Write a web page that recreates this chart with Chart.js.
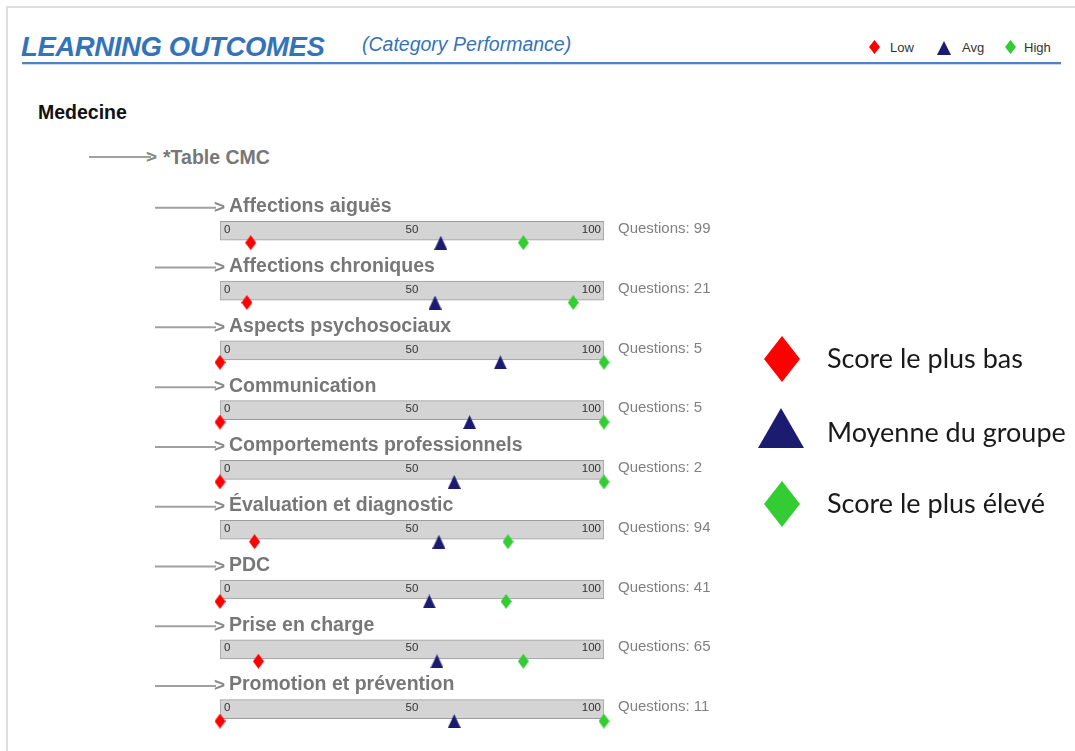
<!DOCTYPE html>
<html>
<head>
<meta charset="utf-8">
<script src="https://cdn.jsdelivr.net/npm/chart.js@4.4.1/dist/chart.umd.min.js"></script>
<style>
  body { margin: 0; background: #fff; font-family: "Liberation Sans", Arial, sans-serif; }
  #page { position: relative; width: 1075px; height: 751px; overflow: hidden; }
  #frame { position: absolute; left: 6px; top: 6px; width: 1080px; height: 800px;
           border-left: 2px solid #dedede; border-top: 2px solid #dedede; }
  #chart-wrap { position: absolute; left: 0; top: 0; width: 1075px; height: 751px; }
  .abs { position: absolute; white-space: nowrap; }
  .title { left: 21px; top: 31px; font-size: 27.5px; font-weight: bold; font-style: italic; color: #3373ba; letter-spacing: -0.4px; }
  .subtitle { left: 362px; top: 33px; font-size: 19.5px; font-style: italic; color: #3373ba; }
  .rule { left: 22px; top: 62px; width: 1039px; height: 2px; background: #4a85c4; box-shadow: 0 1px 1px #c9d6e4; }
  .mini { top: 40px; font-size: 13px; color: #333; }
  .shape { position: absolute; }
  .diamond { clip-path: polygon(50% 0, 100% 50%, 50% 100%, 0 50%); }
  .tri { clip-path: polygon(50% 0, 100% 100%, 0 100%); }
  .group { left: 38px; top: 101px; font-size: 19.5px; font-weight: bold; color: #111; }
  .table { left: 163px; top: 146px; font-size: 19.5px; font-weight: bold; color: #777; }
  .arrow-line { left: 89px; top: 156px; width: 62px; height: 2px; background: #a0a0a0; }
  .arrow-head { left: 146px; top: 146px; font-size: 19px; font-weight: bold; color: #888; }
  .big { left: 827px; font-family: Lato, "Open Sans", sans-serif; font-size: 27px; color: #1a1a1a; }
</style>
</head>
<body>
<div id="page">
  <div id="frame"></div>
  <div class="abs title">LEARNING OUTCOMES</div>
  <div class="abs subtitle">(Category Performance)</div>
  <div class="abs rule"></div>

  <div class="shape diamond" style="left:869px;top:40px;width:11px;height:14px;background:#f00"></div>
  <div class="abs mini" style="left:890px">Low</div>
  <div class="shape tri" style="left:937px;top:41px;width:14px;height:14px;background:#1b1b6f"></div>
  <div class="abs mini" style="left:962px">Avg</div>
  <div class="shape diamond" style="left:1005px;top:40px;width:11px;height:14px;background:#33cc33"></div>
  <div class="abs mini" style="left:1024px">High</div>

  <div class="abs group">Medecine</div>
  <div class="abs arrow-line"></div>
  <div class="abs arrow-head">&gt;</div>
  <div class="abs table">*Table CMC</div>

  <div id="chart-wrap"><canvas id="chart-scores"></canvas></div>

  <div class="shape diamond" style="left:764px;top:336px;width:36px;height:46px;background:#f00"></div>
  <div class="abs big" style="top:341px">Score le plus bas</div>
  <div class="shape tri" style="left:758px;top:408px;width:46px;height:40px;background:#1b1b6f"></div>
  <div class="abs big" style="top:415px">Moyenne du groupe</div>
  <div class="shape diamond" style="left:764px;top:481px;width:36px;height:46px;background:#33cc33"></div>
  <div class="abs big" style="top:486px">Score le plus élevé</div>
</div>

<script>
const categories = ['Affections aiguës', 'Affections chroniques', 'Aspects psychosociaux', 'Communication',
  'Comportements professionnels', 'Évaluation et diagnostic', 'PDC', 'Prise en charge', 'Promotion et prévention'];
const questionCounts = [99, 21, 5, 5, 2, 94, 41, 65, 11];
const lowScores = [8, 7, 0, 0, 0, 9, 0, 10, 0];
const avgScores = [57.5, 56, 73, 65, 61, 57, 54.5, 56.5, 61];
const highScores = [79, 92, 100, 100, 100, 75, 74.5, 79, 100];
const scaleTicks = [0, 50, 100];

const MARKER_DROP = 0.2; // markers sit on the lower edge of each bar

function makeMarker(shape, color, w, h) {
  const c = document.createElement('canvas');
  c.width = w; c.height = h;
  const ctx = c.getContext('2d');
  ctx.fillStyle = color;
  ctx.beginPath();
  if (shape === 'diamond') {
    ctx.moveTo(w / 2, 0); ctx.lineTo(w, h / 2); ctx.lineTo(w / 2, h); ctx.lineTo(0, h / 2);
  } else {
    ctx.moveTo(w / 2, 0); ctx.lineTo(w, h); ctx.lineTo(0, h);
  }
  ctx.closePath();
  ctx.fill();
  return c;
}

function markerData(values) {
  return values.map((v, i) => ({ x: v, y: i + MARKER_DROP }));
}

const rowDecor = {
  id: 'rowDecor',
  beforeDatasetsDraw(chart) {
    const { ctx, scales: { x, y } } = chart;
    const left = x.getPixelForValue(scaleTicks[0]);
    const right = x.getPixelForValue(scaleTicks[scaleTicks.length - 1]);
    ctx.save();
    categories.forEach((name, i) => {
      const cy = y.getPixelForValue(i);
      const ly = cy - 24;
      ctx.strokeStyle = '#a0a0a0';
      ctx.lineWidth = 2;
      ctx.beginPath();
      ctx.moveTo(left - 65, ly + 1);
      ctx.lineTo(left - 4, ly + 1);
      ctx.stroke();
      ctx.textBaseline = 'middle';
      ctx.textAlign = 'left';
      ctx.fillStyle = '#888';
      ctx.font = 'bold 19px "Liberation Sans", Arial, sans-serif';
      ctx.fillText('>', left - 6, ly + 1);
      ctx.fillStyle = '#777';
      ctx.font = 'bold 19.5px "Liberation Sans", Arial, sans-serif';
      ctx.fillText(name, left + 9, ly);
      ctx.font = '15px "Liberation Sans", Arial, sans-serif';
      ctx.fillStyle = '#808080';
      ctx.fillText('Questions: ' + questionCounts[i], right + 14, cy - 2);
    });
    ctx.restore();
  },
  afterDatasetDraw(chart, args) {
    if (args.index !== 0) return;
    const { ctx, scales: { x, y } } = chart;
    ctx.save();
    ctx.fillStyle = '#333';
    ctx.font = '11.5px "Liberation Sans", Arial, sans-serif';
    ctx.textBaseline = 'middle';
    categories.forEach((name, i) => {
      const cy = y.getPixelForValue(i) - 1;
      scaleTicks.forEach((t, k) => {
        const px = x.getPixelForValue(t);
        if (k === 0) { ctx.textAlign = 'left'; ctx.fillText(String(t), px + 4, cy); }
        else if (k === scaleTicks.length - 1) { ctx.textAlign = 'right'; ctx.fillText(String(t), px - 3, cy); }
        else { ctx.textAlign = 'center'; ctx.fillText(String(t), px, cy); }
      });
    });
    ctx.restore();
  }
};

new Chart(document.getElementById('chart-scores'), {
  type: 'bar',
  data: {
    datasets: [
      {
        label: 'Range',
        data: categories.map((c, i) => ({ x: [scaleTicks[0], scaleTicks[scaleTicks.length - 1]], y: i })),
        backgroundColor: '#d4d4d4',
        borderColor: '#9c9c9c',
        borderWidth: 1,
        borderSkipped: false,
        barThickness: 19,
        order: 2,
      },
      {
        type: 'scatter', label: 'Low', data: markerData(lowScores), order: 1, clip: false,
        pointStyle: makeMarker('diamond', '#ff0000', 11, 15), pointRadius: 7,
      },
      {
        type: 'scatter', label: 'Avg', data: markerData(avgScores), order: 1, clip: false,
        pointStyle: makeMarker('triangle', '#1b1b6f', 13, 14), pointRadius: 7,
      },
      {
        type: 'scatter', label: 'High', data: markerData(highScores), order: 1, clip: false,
        pointStyle: makeMarker('diamond', '#33cc33', 11, 15), pointRadius: 7,
      },
    ]
  },
  options: {
    indexAxis: 'y',
    responsive: true,
    maintainAspectRatio: false,
    animation: false,
    events: [],
    layout: { padding: { left: 220, right: 471, top: 171, bottom: 12 } },
    scales: {
      x: { type: 'linear', min: 0, max: 100, display: false },
      y: { type: 'linear', min: -1, max: 8.5, reverse: true, offset: false, display: false }
    },
    plugins: { legend: { display: false }, tooltip: { enabled: false } }
  },
  plugins: [rowDecor]
});
</script>
</body>
</html>
